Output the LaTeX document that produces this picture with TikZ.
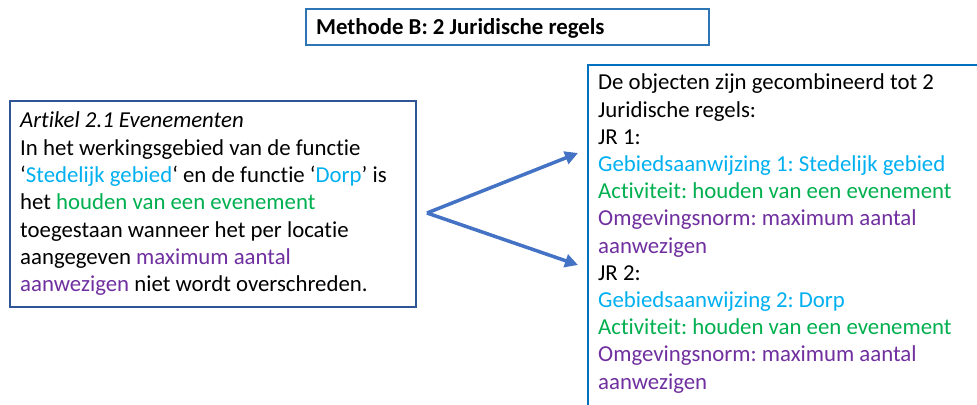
\documentclass[tikz,border=0pt]{standalone}
\usepackage{fontspec}
\setmainfont{Carlito}[Ligatures={NoCommon}]
\usetikzlibrary{arrows.meta}
\definecolor{cyanT}{HTML}{00B0F0}
\definecolor{greenT}{HTML}{00B050}
\definecolor{purpleT}{HTML}{7030A0}
\definecolor{leftborder}{HTML}{2F5597}
\definecolor{rightborder}{HTML}{0070C0}
\definecolor{titleborder}{HTML}{2E75B6}
\definecolor{arrowblue}{HTML}{4472C4}
\tikzset{
  boxshape/.style={draw, line width=2.5bp, inner sep=0pt, outer sep=0pt, anchor=north west},
  bodytext/.style={anchor=base west, inner sep=0pt, align=left},
  splitarrow/.style={draw=arrowblue, line width=3.5bp, -{Triangle[length=13bp,width=13bp]}, fill=arrowblue}
}
\newcommand{\cy}[1]{\textcolor{cyanT}{#1}}
\newcommand{\gr}[1]{\textcolor{greenT}{#1}}
\newcommand{\pu}[1]{\textcolor{purpleT}{#1}}
\frenchspacing
\begin{document}
\begin{tikzpicture}[x=1bp,y=-1bp]
\clip (0,0) rectangle (977,404);
\fill[white] (0,0) rectangle (977,404);
% title
\node[boxshape, draw=titleborder, minimum width=403bp, minimum height=36bp] (titlebox) at (306,9) {};
\node[bodytext, font=\fontsize{22.8bp}{27.3bp}\selectfont\bfseries] (titletext) at (316,34) {Methode B: 2 Juridische regels};
% left box
\node[boxshape, draw=leftborder, minimum width=406bp, minimum height=206bp] (artbox) at (10,101) {};
\node[bodytext, font=\fontsize{22.8bp}{27.33bp}\selectfont] (arttext) at (20,291.7) {%
\textit{Artikel 2.1 Evenementen}\\
In het werkingsgebied van de functie\\
‘\cy{Stedelijk gebied}‘ en de functie ‘\cy{Dorp}’ is\\
het \gr{houden van een evenement}\\
toegestaan wanneer het per locatie\\
aangegeven \pu{maximum aantal}\\
\pu{aanwezigen} niet wordt overschreden.};
% right box
\node[boxshape, draw=rightborder, minimum width=420bp, minimum height=360bp] (jrbox) at (588,65) {};
\node[bodytext, font=\fontsize{22.8bp}{27.2bp}\selectfont] (jrtext) at (598,389) {%
De objecten zijn gecombineerd tot 2\\
Juridische regels:\\
JR 1:\\
\cy{Gebiedsaanwijzing 1: Stedelijk gebied}\\
\gr{Activiteit: houden van een evenement}\\
\pu{Omgevingsnorm: maximum aantal}\\
\pu{aanwezigen}\\
JR 2:\\
\cy{Gebiedsaanwijzing 2: Dorp}\\
\gr{Activiteit: houden van een evenement}\\
\pu{Omgevingsnorm: maximum aantal}\\
\pu{aanwezigen}};
% arrows
\coordinate (fork) at (427,213);
\coordinate (tip1) at (578,153);
\coordinate (tip2) at (578,265);
\draw[splitarrow, line join=round] (fork) -- (tip1);
\draw[splitarrow, line join=round] (fork) -- (tip2);
\end{tikzpicture}
\end{document}
